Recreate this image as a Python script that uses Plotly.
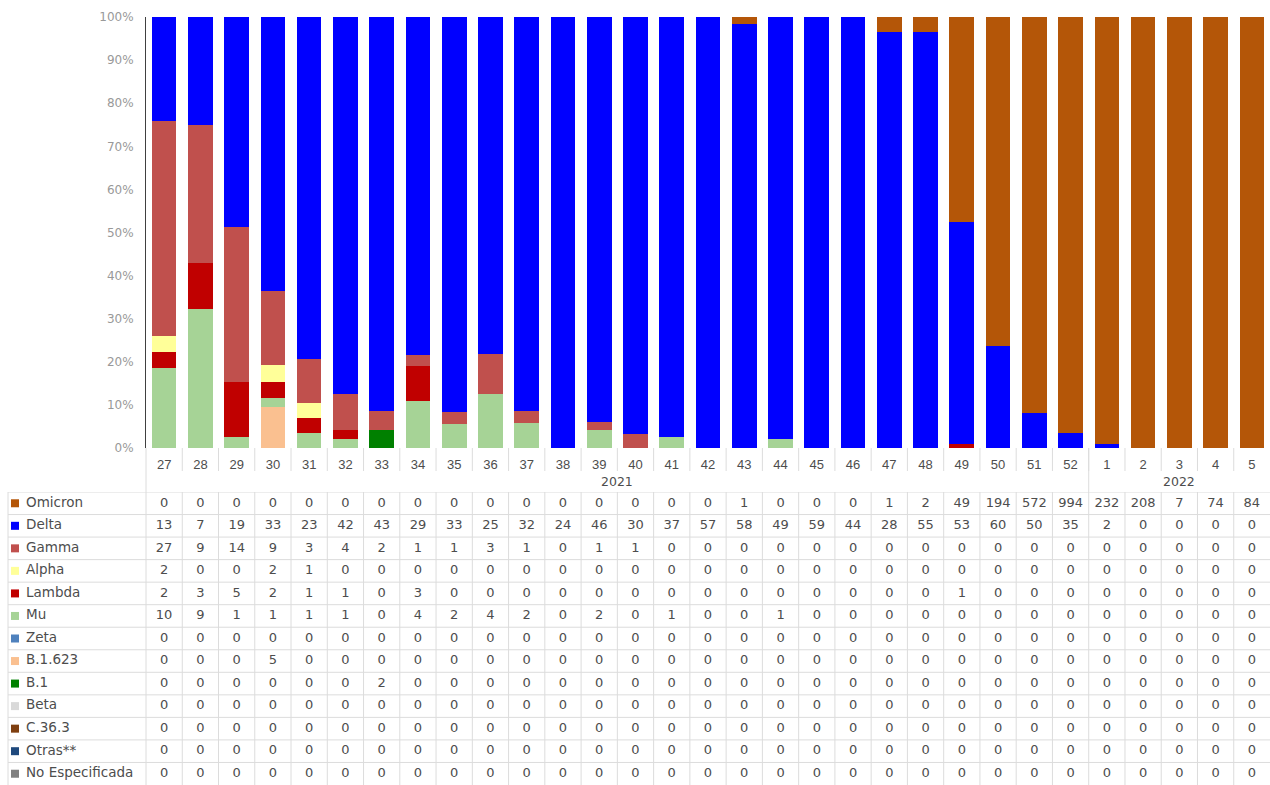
import plotly.graph_objects as go

weeks = ["27", "28", "29", "30", "31", "32", "33", "34", "35", "36", "37", "38", "39", "40",
         "41", "42", "43", "44", "45", "46", "47", "48", "49", "50", "51", "52",
         "1", "2", "3", "4", "5"]
years = ["2021"] * 26 + ["2022"] * 5

variants = ["Omicron", "Delta", "Gamma", "Alpha", "Lambda", "Mu", "Zeta", "B.1.623", "B.1",
            "Beta", "C.36.3", "Otras**", "No Especificada"]

omicron = [0, 0, 0, 0, 0, 0, 0, 0, 0, 0, 0, 0, 0, 0, 0, 0, 1, 0, 0, 0, 1, 2, 49, 194, 572, 994,
           232, 208, 7, 74, 84]
delta = [13, 7, 19, 33, 23, 42, 43, 29, 33, 25, 32, 24, 46, 30, 37, 57, 58, 49, 59, 44, 28, 55,
         53, 60, 50, 35, 2, 0, 0, 0, 0]
gamma = [27, 9, 14, 9, 3, 4, 2, 1, 1, 3, 1, 0, 1, 1, 0, 0, 0, 0, 0, 0, 0, 0, 0, 0, 0, 0,
         0, 0, 0, 0, 0]
alpha = [2, 0, 0, 2, 1, 0, 0, 0, 0, 0, 0, 0, 0, 0, 0, 0, 0, 0, 0, 0, 0, 0, 0, 0, 0, 0,
         0, 0, 0, 0, 0]
lambda_ = [2, 3, 5, 2, 1, 1, 0, 3, 0, 0, 0, 0, 0, 0, 0, 0, 0, 0, 0, 0, 0, 0, 1, 0, 0, 0,
           0, 0, 0, 0, 0]
mu = [10, 9, 1, 1, 1, 1, 0, 4, 2, 4, 2, 0, 2, 0, 1, 0, 0, 1, 0, 0, 0, 0, 0, 0, 0, 0,
      0, 0, 0, 0, 0]
zeta = [0] * 31
b1623 = [0, 0, 0, 5] + [0] * 27
b1 = [0, 0, 0, 0, 0, 0, 2] + [0] * 24
beta = [0] * 31
c363 = [0] * 31
otras = [0] * 31
no_esp = [0] * 31

series = [omicron, delta, gamma, alpha, lambda_, mu, zeta, b1623, b1, beta, c363, otras, no_esp]

colors = ["#B45608", "#0000FF", "#C0504D", "#FFFF99", "#C00000", "#A6D396", "#4F81BD",
          "#FAC090", "#008000", "#D9D9D9", "#7F3F10", "#1F497D", "#808080"]

W, H = 1270, 785
X0, X1 = 146, 1270        # plot area left/right (px)
YT, YB = 17, 448           # plot area top/bottom (px)
TBL_TOP = 492              # table top (px)

def px_x(p):
    return p / W

def px_y(p):
    return (H - p) / H

fig = go.Figure()

# stacked bars: first table row sits on top, so add in reverse
for name, vals, col in reversed(list(zip(variants, series, colors))):
    fig.add_trace(go.Bar(x=weeks, y=vals, name=name, marker_color=col,
                         marker_line_width=0, xaxis="x", yaxis="y", showlegend=False))

# table counts
tx, ty, tt = [], [], []
for name, vals in zip(variants, series):
    for w, v in zip(weeks, vals):
        tx.append(w)
        ty.append(name)
        tt.append(str(v))
fig.add_trace(go.Scatter(x=tx, y=ty, text=tt, mode="text", xaxis="x", yaxis="y2",
                         textfont=dict(family="DejaVu Sans", size=13, color="#4D4D4D"),
                         cliponaxis=False, showlegend=False, hoverinfo="skip"))

# legend keys + labels in first column
fig.add_trace(go.Scatter(x=[15] * len(variants), y=variants, mode="markers", xaxis="x2", yaxis="y2",
                         marker=dict(symbol="square", size=8, color=colors),
                         cliponaxis=False, showlegend=False, hoverinfo="skip"))
fig.add_trace(go.Scatter(x=[26] * len(variants), y=variants, text=variants, mode="text",
                         textposition="middle right", xaxis="x2", yaxis="y2",
                         textfont=dict(family="DejaVu Sans", size=13.5, color="#4D4D4D"),
                         cliponaxis=False, showlegend=False, hoverinfo="skip"))

# grid lines
line_c = "#DCDCDC"
shapes = []
n = len(weeks)
# vertical lines in table and week-label row
for k in range(1, n):
    shapes.append(dict(type="line", xref="x", yref="paper", x0=k - 0.5, x1=k - 0.5,
                       y0=px_y(H), y1=px_y(TBL_TOP), line=dict(color=line_c, width=1)))
    shapes.append(dict(type="line", xref="x", yref="paper", x0=k - 0.5, x1=k - 0.5,
                       y0=px_y(471), y1=px_y(YB), line=dict(color=line_c, width=1)))
# year group divider through year row
first_2022 = years.index("2022")
shapes.append(dict(type="line", xref="x", yref="paper", x0=first_2022 - 0.5, x1=first_2022 - 0.5,
                   y0=px_y(TBL_TOP), y1=px_y(YB), line=dict(color=line_c, width=1)))
# left axis extension
shapes.append(dict(type="line", xref="paper", yref="paper", x0=px_x(X0), x1=px_x(X0),
                   y0=px_y(H), y1=px_y(YB), line=dict(color=line_c, width=1)))
# table left border
shapes.append(dict(type="line", xref="paper", yref="paper", x0=px_x(8), x1=px_x(8),
                   y0=px_y(H), y1=px_y(TBL_TOP), line=dict(color=line_c, width=1)))
# horizontal row lines
for r in range(len(variants)):
    shapes.append(dict(type="line", xref="paper", yref="y2", x0=px_x(8), x1=1,
                       y0=r - 0.5, y1=r - 0.5, line=dict(color=line_c, width=1)))

# year labels
annotations = []
for yr in ["2021", "2022"]:
    idx = [i for i, y in enumerate(years) if y == yr]
    annotations.append(dict(text=yr, xref="x", yref="paper", x=(idx[0] + idx[-1]) / 2,
                            y=px_y(481), showarrow=False,
                            font=dict(family="DejaVu Sans", size=12.5, color="#4D4D4D")))

fig.update_layout(
    width=W, height=H, autosize=False,
    margin=dict(l=0, r=0, t=0, b=0, pad=0, autoexpand=False),
    paper_bgcolor="white", plot_bgcolor="white",
    barmode="stack", barnorm="percent", bargap=0.32,
    showlegend=False,
    xaxis=dict(type="category", domain=[px_x(X0), px_x(X1)], anchor="y", automargin=False,
               showgrid=False, showline=False, zeroline=False,
               ticks="outside", ticklen=4, tickcolor="rgba(0,0,0,0)",
               tickfont=dict(family="Liberation Sans", size=13, color="#4D4D4D"),
               range=[-0.5, n - 0.5]),
    yaxis=dict(domain=[px_y(YB), px_y(YT)], anchor="x", range=[0, 100], dtick=10,
               automargin=False,
               ticksuffix="%", showgrid=False, zeroline=False,
               showline=True, linecolor="#404040", linewidth=1, ticks="",
               ticklabelstandoff=9,
               tickfont=dict(family="DejaVu Sans", size=12, color="#999999")),
    xaxis2=dict(domain=[0, px_x(X0)], anchor="y2", range=[0, X0], visible=False,
                automargin=False),
    yaxis2=dict(type="category", domain=[0, px_y(TBL_TOP)], anchor="x",
                range=[len(variants) - 0.5, -0.5], visible=False, automargin=False),
    shapes=shapes,
    annotations=annotations,
)

page_css = ("var s=document.documentElement.style;s.margin='0';s.padding='0';s.overflow='hidden';"
            "var b=document.body.style;b.margin='0';b.padding='0';b.overflow='hidden';")
fig.write_html("out.html", config={"displayModeBar": False}, post_script=page_css)
